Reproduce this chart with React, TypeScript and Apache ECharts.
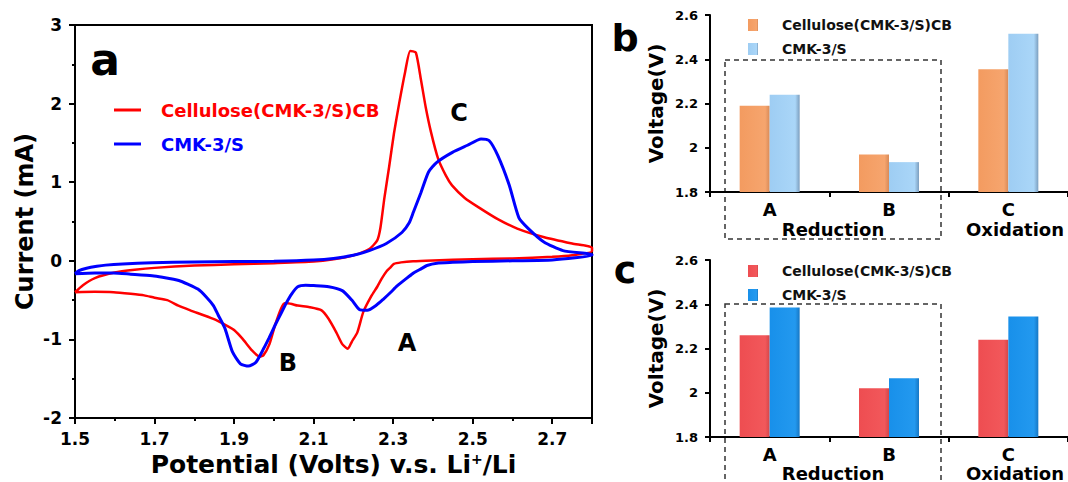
import { useEffect, useRef } from "react";
import * as echarts from "echarts";

const FONT = '"DejaVu Sans", "Liberation Sans", sans-serif';

// Panel a: cyclic voltammetry curves [potential (V), current (mA)]
const redAnodic: [number, number][] = [
  [1.5, -0.4], [1.52, -0.31], [1.55, -0.22], [1.6, -0.15], [1.65, -0.115], [1.7, -0.09],
  [1.8, -0.06], [1.9, -0.045], [2.0, -0.03], [2.1, -0.01], [2.15, 0.02], [2.2, 0.07],
  [2.24, 0.15], [2.26, 0.26], [2.268, 0.42], [2.278, 0.8], [2.29, 1.2], [2.302, 1.62],
  [2.315, 2.0], [2.33, 2.4], [2.343, 2.67], [2.357, 2.65], [2.37, 2.3], [2.382, 1.95],
  [2.395, 1.64], [2.413, 1.3], [2.433, 1.08], [2.448, 0.96], [2.48, 0.8], [2.515, 0.68],
  [2.563, 0.53], [2.612, 0.41], [2.68, 0.3], [2.75, 0.22], [2.8, 0.17],
];
const redCathodic: [number, number][] = [
  [2.8, 0.12], [2.75, 0.07], [2.7, 0.05], [2.6, 0.03], [2.5, 0.02], [2.4, 0.005],
  [2.35, -0.005], [2.32, -0.02], [2.302, -0.04], [2.292, -0.09], [2.284, -0.13],
  [2.272, -0.22], [2.26, -0.33], [2.245, -0.45], [2.225, -0.65], [2.21, -0.91],
  [2.196, -1.03], [2.186, -1.12], [2.172, -1.06], [2.157, -0.91], [2.138, -0.74],
  [2.12, -0.63], [2.09, -0.59], [2.06, -0.57], [2.035, -0.54], [2.027, -0.54],
  [2.018, -0.61], [2.003, -0.82], [1.989, -1.06], [1.974, -1.2], [1.965, -1.22],
  [1.945, -1.14], [1.921, -0.99], [1.9, -0.88], [1.887, -0.84], [1.848, -0.74],
  [1.79, -0.63], [1.76, -0.57], [1.732, -0.5], [1.7, -0.47], [1.674, -0.44],
  [1.64, -0.42], [1.597, -0.4], [1.55, -0.395], [1.5, -0.4],
];
const blueAnodic: [number, number][] = [
  [1.5, -0.165], [1.51, -0.125], [1.529, -0.095], [1.555, -0.07], [1.577, -0.055],
  [1.62, -0.04], [1.694, -0.025], [1.8, -0.015], [1.9, -0.01], [2.0, -0.005],
  [2.1, 0.01], [2.15, 0.03], [2.2, 0.07], [2.24, 0.13], [2.283, 0.22], [2.322, 0.36],
  [2.34, 0.48], [2.351, 0.62], [2.37, 0.87], [2.389, 1.13], [2.409, 1.25],
  [2.449, 1.38], [2.487, 1.47], [2.521, 1.55], [2.541, 1.53], [2.563, 1.34],
  [2.592, 0.96], [2.616, 0.55], [2.64, 0.41], [2.679, 0.24], [2.727, 0.13], [2.8, 0.08],
];
const blueCathodic: [number, number][] = [
  [2.8, 0.07], [2.7, 0.01], [2.6, 0.0], [2.5, -0.01], [2.45, -0.02], [2.41, -0.03],
  [2.385, -0.06], [2.371, -0.1], [2.35, -0.16], [2.332, -0.23], [2.31, -0.32],
  [2.294, -0.4], [2.275, -0.49], [2.259, -0.56], [2.235, -0.63], [2.215, -0.62],
  [2.196, -0.5], [2.172, -0.38], [2.138, -0.33], [2.1, -0.315], [2.08, -0.31],
  [2.06, -0.33], [2.045, -0.42], [2.032, -0.53], [2.018, -0.67], [2.003, -0.82],
  [1.988, -0.98], [1.974, -1.12], [1.955, -1.29], [1.936, -1.34], [1.916, -1.31],
  [1.896, -1.16], [1.877, -0.86], [1.86, -0.69], [1.848, -0.57], [1.83, -0.46],
  [1.809, -0.36], [1.785, -0.3], [1.761, -0.25], [1.72, -0.21], [1.694, -0.19],
  [1.64, -0.17], [1.597, -0.155], [1.55, -0.155], [1.5, -0.165],
];

// Panels b and c: peak voltages
const peaks = ["A", "B", "C"];
const bCellulose = [2.19, 1.97, 2.355];
const bCmk = [2.24, 1.935, 2.515];
const cCellulose = [2.26, 2.02, 2.24];
const cCmk = [2.385, 2.065, 2.345];

const NAME_CELL = "Cellulose(CMK-3/S)CB";
const NAME_CMK = "CMK-3/S";

const grad = (a: string, b: string, edge: string) =>
  new echarts.graphic.LinearGradient(0, 0, 1, 0, [
    { offset: 0, color: a },
    { offset: 0.85, color: b },
    { offset: 1, color: edge },
  ]);

const bold = { fontFamily: FONT, fontWeight: "bold" as const, color: "#000" };

function barYAxis(gridIndex: number) {
  return {
    type: "value" as const,
    gridIndex,
    min: 1.8,
    max: 2.6,
    interval: 0.2,
    name: "Voltage(V)",
    nameLocation: "middle" as const,
    nameGap: 44,
    nameTextStyle: { ...bold, fontSize: 20 },
    axisLine: { show: true, lineStyle: { color: "#000", width: 2 } },
    axisTick: { show: true, length: 5, lineStyle: { color: "#000", width: 2 } },
    axisLabel: {
      ...bold,
      fontSize: 13,
      margin: 12,
      formatter: (v: number) => String(Number(v.toFixed(1))),
    },
    splitLine: { show: false },
  };
}

function barXAxis(gridIndex: number) {
  return {
    type: "category" as const,
    gridIndex,
    data: peaks,
    axisLine: { show: true, lineStyle: { color: "#000", width: 2 } },
    axisTick: { show: true, length: 5, lineStyle: { color: "#000", width: 2 } },
    axisLabel: { ...bold, fontSize: 18, margin: 8 },
  };
}

const stripPrefix = (n: string) => n.replace(/^[bc]:/, "");

function barLegend(prefix: string, top: number) {
  return {
    orient: "vertical" as const,
    left: 743,
    top,
    itemWidth: 10,
    itemHeight: 12,
    itemGap: 10,
    icon: "rect",
    selectedMode: false,
    formatter: stripPrefix,
    textStyle: { ...bold, fontSize: 14, color: "#111", padding: [0, 0, 0, 19] },
    data: [prefix + NAME_CELL, prefix + NAME_CMK],
  };
}

export default function App() {
  const ref = useRef<HTMLDivElement>(null);
  useEffect(() => {
    if (!ref.current) return;
    const chart = echarts.init(ref.current, null, { renderer: "svg" });
    const txt = (text: string, x: number, y: number, fontSize: number) => ({
      type: "text",
      x,
      y,
      style: {
        text,
        fontSize,
        fontWeight: "bold",
        fontFamily: FONT,
        fill: "#000",
        align: "center",
        verticalAlign: "middle",
      },
    });
    const dashRect = (x: number, y: number, w: number, h: number) => ({
      type: "rect",
      shape: { x, y, width: w, height: h },
      style: { fill: "none", stroke: "#333", lineWidth: 1.5, lineDash: [5, 4] },
      silent: true,
    });
    chart.setOption({
      animation: false,
      backgroundColor: "#fff",
      grid: [
        { left: 75, top: 25, width: 517, height: 394, show: true, borderColor: "#000", borderWidth: 2, backgroundColor: "transparent" },
        { left: 710, top: 15, width: 360, height: 177 },
        { left: 710, top: 260, width: 360, height: 177 },
      ],
      xAxis: [
        {
          type: "value",
          gridIndex: 0,
          min: 1.5,
          max: 2.8,
          interval: 0.2,
          name: "Potential (Volts) v.s. Li{sup|+}/Li",
          nameLocation: "middle",
          nameGap: 34,
          nameTextStyle: {
            ...bold,
            fontSize: 25,
            rich: {
              sup: { fontFamily: FONT, fontWeight: "bold", fontSize: 14, color: "#000", verticalAlign: "top", padding: [0, 0, 10, 0] },
            },
          },
          axisLine: { show: true, onZero: false, lineStyle: { color: "#000", width: 2 } },
          axisTick: { show: true, length: 6, lineStyle: { color: "#000", width: 2 } },
          minorTick: { show: true, splitNumber: 2, length: 3, lineStyle: { color: "#000", width: 2 } },
          axisLabel: { ...bold, fontSize: 17, margin: 12, showMaxLabel: false, formatter: (v: number) => v.toFixed(1) },
          splitLine: { show: false },
        },
        barXAxis(1),
        barXAxis(2),
      ],
      yAxis: [
        {
          type: "value",
          gridIndex: 0,
          min: -2,
          max: 3,
          interval: 1,
          name: "Current (mA)",
          nameLocation: "middle",
          nameGap: 38,
          nameTextStyle: { ...bold, fontSize: 24 },
          axisLine: { show: true, onZero: false, lineStyle: { color: "#000", width: 2 } },
          axisTick: { show: true, length: 6, lineStyle: { color: "#000", width: 2 } },
          minorTick: { show: true, splitNumber: 2, length: 3, lineStyle: { color: "#000", width: 2 } },
          axisLabel: { ...bold, fontSize: 17, margin: 13 },
          splitLine: { show: false },
        },
        barYAxis(1),
        barYAxis(2),
      ],
      legend: [
        {
          orient: "vertical",
          left: 109,
          top: 96,
          itemWidth: 27,
          itemHeight: 3,
          itemGap: 16,
          icon: "rect",
          selectedMode: false,
          textStyle: { ...bold, fontSize: 18, padding: [0, 0, 0, 15] },
          data: [
            { name: NAME_CELL, textStyle: { color: "#ff0000" } },
            { name: NAME_CMK, textStyle: { color: "#0000ff" } },
          ],
        },
        barLegend("b:", 13),
        barLegend("c:", 259),
      ],
      series: [
        {
          name: NAME_CELL,
          type: "line",
          xAxisIndex: 0,
          yAxisIndex: 0,
          data: [...redAnodic, ...redCathodic],
          showSymbol: false,
          smooth: 0.2,
          color: "#ff0000",
          lineStyle: { color: "#ff0000", width: 2.5 },
          z: 3,
        },
        {
          name: NAME_CMK,
          type: "line",
          xAxisIndex: 0,
          yAxisIndex: 0,
          data: [...blueAnodic, ...blueCathodic],
          showSymbol: false,
          smooth: 0.2,
          color: "#0000ff",
          lineStyle: { color: "#0000ff", width: 3 },
          z: 4,
        },
        {
          name: "b:" + NAME_CELL,
          type: "bar",
          xAxisIndex: 1,
          yAxisIndex: 1,
          data: bCellulose,
          barWidth: 30,
          barGap: "0%",
          itemStyle: { color: grad("#F39B60", "#F6A56E", "#D88A58") },
        },
        {
          name: "b:" + NAME_CMK,
          type: "bar",
          xAxisIndex: 1,
          yAxisIndex: 1,
          data: bCmk,
          barWidth: 30,
          barGap: "0%",
          itemStyle: { color: grad("#9ECDF3", "#AAD6F8", "#7C9EBE") },
        },
        {
          name: "c:" + NAME_CELL,
          type: "bar",
          xAxisIndex: 2,
          yAxisIndex: 2,
          data: cCellulose,
          barWidth: 30,
          barGap: "0%",
          itemStyle: { color: grad("#EE4D51", "#F2585B", "#D44649") },
        },
        {
          name: "c:" + NAME_CMK,
          type: "bar",
          xAxisIndex: 2,
          yAxisIndex: 2,
          data: cCmk,
          barWidth: 30,
          barGap: "0%",
          itemStyle: { color: grad("#1890EA", "#2399EF", "#1677C4") },
        },
      ],
      graphic: [
        txt("a", 105, 59, 44),
        txt("b", 625, 38, 38),
        txt("c", 625, 270, 38),
        txt("C", 459, 113, 24),
        txt("A", 407, 343, 24),
        txt("B", 288, 363, 24),
        txt("Reduction", 833, 229, 18),
        txt("Oxidation", 1015, 229, 18),
        txt("Reduction", 833, 473, 18),
        txt("Oxidation", 1015, 473, 18),
        dashRect(725, 60, 216, 179),
        dashRect(725, 304, 216, 200),
      ],
    });
    return () => chart.dispose();
  }, []);
  return (
    <div
      ref={ref}
      style={{ position: "absolute", left: 0, top: 0, width: 1068, height: 482, background: "#fff" }}
    />
  );
}
